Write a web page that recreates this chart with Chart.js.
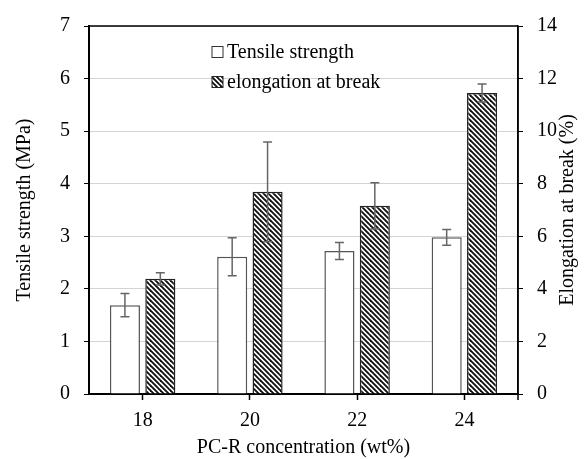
<!DOCTYPE html>
<html>
<head>
<meta charset="utf-8">
<script src="https://cdn.jsdelivr.net/npm/chart.js@4/dist/chart.umd.min.js"></script>
<style>
  html, body { margin: 0; padding: 0; background: #fff; }
  #wrap { width: 584px; height: 459px; }
</style>
</head>
<body>
<div id="wrap"><canvas id="c" width="584" height="459"></canvas></div>
<script>
const categories = ['18', '20', '22', '24'];
const tensileStrength = [1.69, 2.61, 2.72, 2.98];
const tensileError = [0.22, 0.36, 0.16, 0.15];
const elongation = [4.38, 7.69, 7.16, 11.45];
const elongationError = [0.23, 1.9, 0.88, 0.34];
const seriesLabels = ['Tensile strength', 'elongation at break'];
const rightTitle = 'Elongation at break (%)';
const leftTicks = [0, 1, 2, 3, 4, 5, 6, 7];
const rightTicks = [0, 2, 4, 6, 8, 10, 12, 14];

const FONT = '"Liberation Serif", "Times New Roman", serif';

function makeHatch() {
  const t = document.createElement('canvas');
  t.width = 10; t.height = 10;
  const g = t.getContext('2d');
  g.fillStyle = '#ffffff';
  g.fillRect(0, 0, 10, 10);
  g.strokeStyle = '#111111';
  g.lineWidth = 1.9;
  for (let k = -15; k <= 15; k += 5) {
    g.beginPath();
    g.moveTo(k - 2, -2);
    g.lineTo(k + 12, 12);
    g.stroke();
  }
  return document.getElementById('c').getContext('2d').createPattern(t, 'repeat');
}
const hatch = makeHatch();

const errors = [tensileError, elongationError];

const errorBars = {
  id: 'errorBars',
  afterDatasetsDraw(chart) {
    const ctx = chart.ctx;
    ctx.save();
    ctx.strokeStyle = '#666666';
    ctx.lineWidth = 1.5;
    chart.data.datasets.forEach((ds, di) => {
      const meta = chart.getDatasetMeta(di);
      const scale = chart.scales[ds.yAxisID];
      meta.data.forEach((el, i) => {
        const v = ds.data[i], e = errors[di][i];
        const yt = scale.getPixelForValue(v + e);
        const yb = scale.getPixelForValue(v - e);
        const x = el.x;
        ctx.beginPath();
        ctx.moveTo(x, yt); ctx.lineTo(x, yb);
        ctx.moveTo(x - 4.5, yt); ctx.lineTo(x + 4.5, yt);
        ctx.moveTo(x - 4.5, yb); ctx.lineTo(x + 4.5, yb);
        ctx.stroke();
      });
    });
    ctx.restore();
  }
};

const frameAndLegend = {
  id: 'frameAndLegend',
  afterDraw(chart) {
    const ctx = chart.ctx;
    const a = chart.chartArea;
    ctx.save();
    ctx.strokeStyle = '#000';
    ctx.lineWidth = 1.5;
    ctx.beginPath();
    ctx.moveTo(a.left, a.top); ctx.lineTo(a.right, a.top);
    ctx.moveTo(a.right, a.top); ctx.lineTo(a.right, a.bottom + 6);
    ctx.stroke();
    // right axis title, reading bottom to top
    ctx.save();
    ctx.translate(568, (a.top + a.bottom) / 2);
    ctx.rotate(-Math.PI / 2);
    ctx.font = '20px ' + FONT;
    ctx.textAlign = 'center';
    ctx.textBaseline = 'middle';
    ctx.fillStyle = '#000';
    ctx.fillText(rightTitle, 0, 0);
    ctx.restore();
    // legend
    const bx = a.left + 123;
    const rows = [a.top + 26, a.top + 56];
    ctx.font = '20px ' + FONT;
    ctx.textBaseline = 'middle';
    ctx.textAlign = 'left';
    rows.forEach((y, i) => {
      ctx.fillStyle = i === 0 ? '#ffffff' : hatch;
      ctx.fillRect(bx, y - 5.5, 11, 11);
      ctx.strokeStyle = i === 0 ? '#333' : '#222';
      ctx.lineWidth = 1;
      ctx.strokeRect(bx, y - 5.5, 11, 11);
      ctx.fillStyle = '#000';
      ctx.fillText(seriesLabels[i], bx + 15, y + 1);
    });
    ctx.restore();
  }
};

new Chart(document.getElementById('c'), {
  type: 'bar',
  data: {
    labels: categories,
    datasets: [
      {
        label: seriesLabels[0],
        data: tensileStrength,
        yAxisID: 'y',
        backgroundColor: '#ffffff',
        borderColor: '#555555',
        borderWidth: 1.5,
        categoryPercentage: 0.66,
        barPercentage: 0.85
      },
      {
        label: seriesLabels[1],
        data: elongation,
        yAxisID: 'y2',
        backgroundColor: hatch,
        borderColor: '#222222',
        borderWidth: 1.5,
        categoryPercentage: 0.66,
        barPercentage: 0.85
      }
    ]
  },
  options: {
    responsive: false,
    animation: false,
    events: [],
    layout: { padding: { top: 22, left: 0, right: 0, bottom: 0 } },
    plugins: { legend: { display: false }, tooltip: { enabled: false } },
    scales: {
      x: {
        type: 'category',
        position: 'bottom',
        offset: true,
        grid: { offset: false, drawOnChartArea: false, drawTicks: true, tickLength: 6, tickColor: '#000', tickWidth: 1.5 },
        border: { display: true, color: '#000', width: 2 },
        ticks: { color: '#000', font: { family: FONT, size: 20 }, padding: 9, maxRotation: 0 },
        title: { display: true, text: 'PC-R concentration (wt%)', color: '#000', font: { family: FONT, size: 20, lineHeight: 1.1 }, padding: 0 },
        afterFit(s) { s.height = 65; }
      },
      y: {
        position: 'left',
        min: 0, max: 7,
        afterBuildTicks(s) { s.ticks = leftTicks.map(v => ({ value: v })); },
        grid: { color: '#d4d4d4', borderDash: [5, 3], tickBorderDash: [], tickColor: '#000', tickLength: 5, lineWidth: 1, tickWidth: 1 },
        border: { display: true, color: '#000', width: 2 },
        ticks: { color: '#000', font: { family: FONT, size: 20 }, padding: 14 },
        title: { display: true, text: 'Tensile strength (MPa)', color: '#000', font: { family: FONT, size: 20 }, padding: { top: 13, bottom: 0 } },
        afterFit(s) { s.width = 89; }
      },
      y2: {
        position: 'right',
        min: 0, max: 14,
        afterBuildTicks(s) { s.ticks = rightTicks.map(v => ({ value: v })); },
        grid: { drawOnChartArea: false, tickColor: '#000', tickLength: 5, tickWidth: 1 },
        border: { display: true, color: '#000', width: 1.5 },
        ticks: { color: '#000', font: { family: FONT, size: 20 }, padding: 14 },
        title: { display: false },
        afterFit(s) { s.width = 66; }
      }
    }
  },
  plugins: [errorBars, frameAndLegend]
});
</script>
</body>
</html>
